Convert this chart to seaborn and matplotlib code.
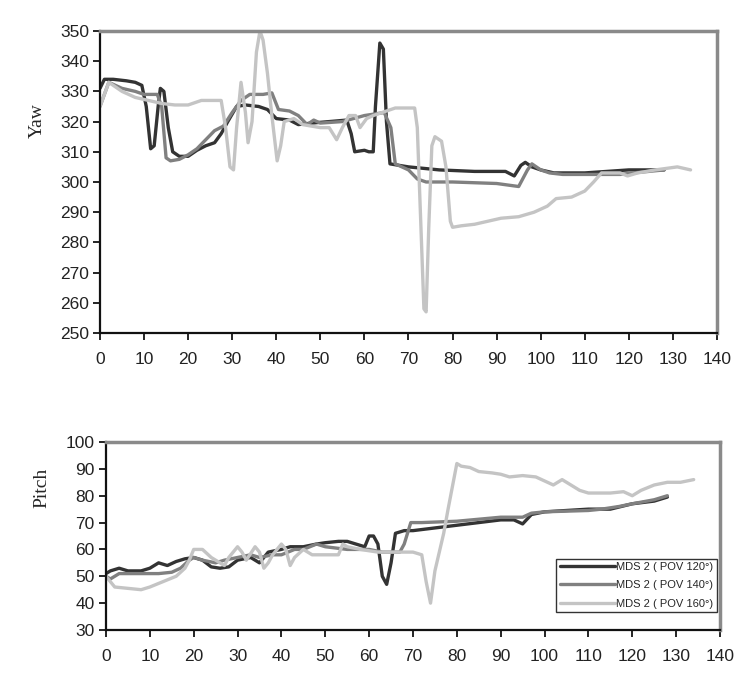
import numpy as np
import pandas as pd
import matplotlib
matplotlib.use("Agg")
import matplotlib.pyplot as plt
import seaborn as sns

# Yaw series (x = time, y = degrees)
yaw_120_x = [0, 1, 3, 6, 8, 9.5, 10.5, 11.5, 12.3, 13.2, 13.7, 14.5, 15.5, 16.5, 18, 20, 22, 24, 26,
             27.5, 29, 31, 33, 36, 38, 40, 43, 45, 48, 52, 56, 57, 57.8, 60, 61, 62, 62.5, 63.5, 64.3,
             65, 65.8, 70, 77, 85, 92, 94, 95.5, 96.5, 98, 100, 103, 110, 120, 128]
yaw_120_y = [331, 334, 334, 333.5, 333, 332, 325, 311, 312, 325, 331, 330, 318, 310, 308.5, 308.5, 310.5,
             312, 313, 316, 320, 325, 325.5, 325, 324, 321, 320.5, 319, 319.5, 320, 320.5, 316, 310,
             310.5, 310, 310, 325, 346, 344, 320, 306, 305, 304, 303.5, 303.5, 302, 305.5, 306.5, 305,
             304, 303, 303, 304, 304]

yaw_140_x = [0, 2, 5, 8, 10, 13, 14, 15, 16, 18, 20, 22, 24, 26, 28, 30, 32, 34, 37, 39, 40.5, 43, 45,
             47, 48.5, 50, 55, 60, 64.5, 66, 67, 70, 72, 74, 80, 90, 95, 97, 98, 100, 102, 105, 118,
             121, 128]
yaw_140_y = [325, 333, 331, 330, 329, 329, 325, 308, 307, 307.5, 309, 311, 314, 317, 318.5, 323, 327,
             329, 329, 329.5, 324, 323.5, 322, 319, 320.5, 319.5, 320, 322, 323, 318, 306, 304, 301,
             300, 300, 299.5, 298.5, 304, 306, 304, 303, 302.5, 302.5, 303, 304]

yaw_160_x = [0, 2, 5, 8, 11, 14, 17, 20, 23, 27.5, 28.5, 29.5, 30.3, 31, 32, 33, 33.6, 34.5, 35.5, 36.3,
             37, 38, 39, 40.2, 41, 41.8, 44, 46, 50, 52, 53.7, 55, 56.5, 58, 59, 60.5, 62, 64, 67,
             71.4, 72, 72.7, 73.5, 74, 74.6, 75.3, 76, 77.5, 78.5, 79.5, 80, 82, 85, 88, 91, 95,
             98.5, 101.5, 103.5, 107, 110, 112, 113.8, 118, 119.7, 122, 126, 131, 134]
yaw_160_y = [325, 333, 330, 328, 327, 326, 325.5, 325.5, 327, 327, 318, 305, 304, 318, 333, 323, 313,
             320, 343, 350, 347, 336, 322, 307, 312, 320, 321, 319, 318, 318, 314, 318, 322, 322, 318,
             321, 322, 323, 324.5, 324.5, 318, 290, 258, 257, 285, 312, 315, 313.5, 305, 287, 285,
             285.5, 286, 287, 288, 288.5, 290, 292, 294.5, 295, 297, 300, 303, 303, 302, 303, 304,
             305, 304]

# Pitch series
pitch_120_x = [0, 1, 3, 5, 8, 10, 12, 14, 16, 18, 20, 22, 24, 26, 28, 30, 33, 35, 37, 40, 42, 45, 48,
               50, 53, 55, 57, 59, 60, 61, 62, 63, 64, 65, 66, 68, 70, 75, 80, 85, 90, 93, 95, 97,
               100, 110, 115, 120, 125, 128]
pitch_120_y = [51, 52, 53, 52, 52, 53, 55, 54, 55.5, 56.5, 57, 56, 53.5, 53, 53.5, 56, 57, 55, 59, 60,
               61, 61, 62, 62.5, 63, 63, 62, 61, 65, 65, 62, 50, 47, 55, 66, 67, 67, 68, 69, 70, 71,
               71, 69.5, 73, 74, 75, 75, 77, 78, 79.5]

pitch_140_x = [0, 1, 3, 8, 12, 15, 17, 19, 20, 22, 25, 27, 30, 33, 35, 38, 40, 43, 45, 48, 50, 55, 60,
               63, 65, 67, 68, 69.5, 72, 80, 90, 95, 97, 100, 110, 113, 117, 120, 125, 128]
pitch_140_y = [50, 49, 51, 51, 51, 51.5, 53, 56, 57, 56, 55, 56, 57, 58, 57, 58, 58, 60, 60, 62, 61,
               60, 60, 59, 59, 59, 62, 70, 70, 70.5, 72, 72, 73.5, 74, 74.5, 75, 76, 77, 78.5, 80]

pitch_160_x = [0, 1, 2, 5, 8, 10, 13, 16, 18, 19, 20, 22, 24, 26, 27, 28, 30, 31, 32, 34, 35, 36, 37,
               38, 40, 41, 42, 43, 45, 47, 50, 53, 54, 55, 58, 62, 65, 70, 72, 73, 74, 75, 77, 78,
               80, 81, 83, 85, 88, 90, 92, 95, 98, 100, 102, 104, 106, 108, 110, 115, 118, 120, 122,
               125, 128, 131, 134]
pitch_160_y = [50, 48, 46, 45.5, 45, 46, 48, 50, 53, 56, 60, 60, 57, 55, 54, 57, 61, 59, 56, 61, 59,
               53, 55, 58, 62, 60, 54, 57, 60, 58, 58, 58, 62, 61, 60, 59, 59, 59, 58, 48, 40, 52,
               66, 75, 92, 91, 90.5, 89, 88.5, 88, 87, 87.5, 87, 85.5, 84, 86, 84, 82, 81, 81, 81.5,
               80, 82, 84, 85, 85, 86]

labels = ["MDS 2 ( POV 120°)", "MDS 2 ( POV 140°)", "MDS 2 ( POV 160°)"]
colors = ["#333333", "#808080", "#c4c4c4"]


def make_frame(xs, ys):
    parts = []
    for lab, x, y in zip(labels, xs, ys):
        parts.append(pd.DataFrame({"t": x, "v": y, "series": lab}))
    return pd.concat(parts, ignore_index=True)


yaw_df = make_frame([yaw_120_x, yaw_140_x, yaw_160_x], [yaw_120_y, yaw_140_y, yaw_160_y])
pitch_df = make_frame([pitch_120_x, pitch_140_x, pitch_160_x], [pitch_120_y, pitch_140_y, pitch_160_y])

sns.set_style("ticks")
plt.rcParams["font.family"] = ["Liberation Sans", "DejaVu Sans"]

fig = plt.figure(figsize=(7.5, 6.87), dpi=100)
ax1 = fig.add_axes([0.1333, 0.5153, 0.8227, 0.4396])
ax2 = fig.add_axes([0.1413, 0.0830, 0.8187, 0.2736])

palette = dict(zip(labels, colors))
sns.lineplot(data=yaw_df, x="t", y="v", hue="series", palette=palette, sort=False,
             linewidth=2.4, ax=ax1, legend=False, estimator=None)
sns.lineplot(data=pitch_df, x="t", y="v", hue="series", palette=palette, sort=False,
             linewidth=2.4, ax=ax2, estimator=None)


def style_axis(ax, ylim, ystep, ylabel, label_y):
    ax.set_xlim(0, 140)
    ax.set_ylim(*ylim)
    ax.set_xticks(np.arange(0, 141, 10))
    ax.set_yticks(np.arange(ylim[0], ylim[1] + 1, ystep))
    ax.set_xlabel("")
    ax.set_ylabel(ylabel, family=["Liberation Serif"], fontsize=14, labelpad=10)
    ax.yaxis.set_label_coords(-0.087, label_y)
    ax.tick_params(axis="both", direction="out", length=5, width=1.2, color="black",
                   labelsize=12.5, labelcolor="#222222")
    ax.tick_params(axis="x", pad=9)
    ax.tick_params(axis="y", pad=3)
    for side in ["left", "bottom"]:
        ax.spines[side].set_color("#111111")
        ax.spines[side].set_linewidth(1.6)
    for side in ["top", "right"]:
        ax.spines[side].set_visible(True)
        ax.spines[side].set_color("#8a8a8a")
        ax.spines[side].set_linewidth(2.5)


style_axis(ax1, (250, 350), 10, "Yaw", 0.705)
style_axis(ax2, (30, 100), 10, "Pitch", 0.755)
ax2.yaxis.set_label_coords(-0.09, 0.755)

leg = ax2.legend(loc="lower right", bbox_to_anchor=(0.995, 0.096), borderaxespad=0,
                 fontsize=8, handlelength=5.0, handletextpad=0.1, borderpad=0.3,
                 labelspacing=0.75, fancybox=False, frameon=True, title=None)
leg.get_frame().set_edgecolor("black")
leg.get_frame().set_linewidth(1.0)
for line in leg.get_lines():
    line.set_linewidth(2.4)

fig.savefig("out.png", dpi=100)
